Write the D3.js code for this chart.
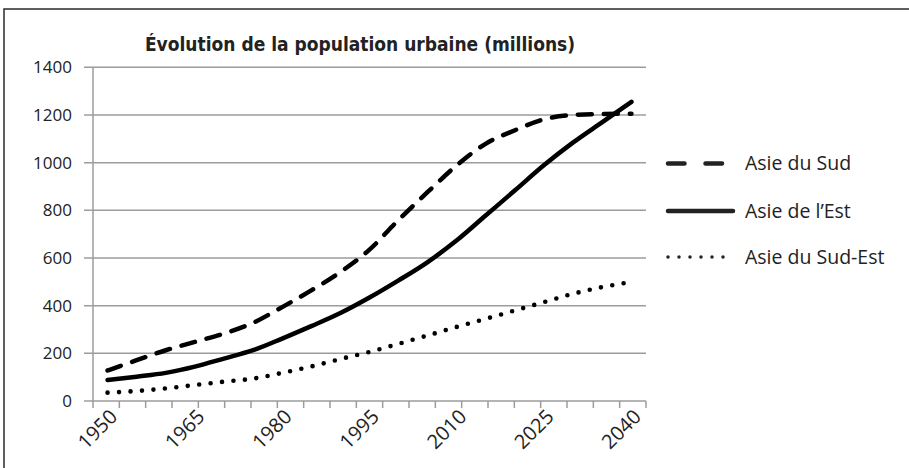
<!DOCTYPE html>
<html>
<head>
<meta charset="utf-8">
<script src="https://cdn.jsdelivr.net/npm/d3@7"></script>
<style>
  body { margin: 0; background: #fff; }
  svg { display: block; }
  text { font-family: "Open Sans", sans-serif; fill: #222; }
</style>
</head>
<body>
<svg id="chart"></svg>
<script>
const width = 909;
const height = 468;
const margin = {top: 67, right: 263, bottom: 67, left: 93};

// données (millions d'habitants urbains)
const years = [1950, 1955, 1960, 1965, 1970, 1975, 1980, 1985, 1990, 1995,
               2000, 2005, 2010, 2015, 2020, 2025, 2030, 2035, 2040];
const asieSud = [128, 171, 213, 248, 283, 328, 394, 464, 541, 635,
                 760, 877, 989, 1080, 1136, 1182, 1200, 1204, 1205];
const asieEst = [88, 102, 118, 144, 178, 213, 262, 314, 369, 434,
                 506, 583, 674, 779, 884, 990, 1085, 1170, 1255];
const asieSudEst = [35, 42, 53, 67, 81, 94, 118, 145, 176, 206,
                    240, 275, 311, 345, 380, 415, 450, 478, 499];
const yTicks = [0, 200, 400, 600, 800, 1000, 1200, 1400];
const xLabels = [1950, 1965, 1980, 1995, 2010, 2025, 2040];
const seriesNames = ["Asie du Sud", "Asie de l\u2019Est", "Asie du Sud-Est"];

const series = [
  {name: seriesNames[0], values: asieSud, dash: "14,12", legendDash: "16.5,21"},
  {name: seriesNames[1], values: asieEst, dash: null, legendDash: null},
  {name: seriesNames[2], values: asieSudEst, dash: "0,11.5", legendDash: "0,11", dot: true}
];

const svg = d3.select("#chart").attr("width", width).attr("height", height);

// cadre
svg.append("path")
  .attr("d", `M4,${height} L4,9 L${width},9`)
  .attr("fill", "none")
  .attr("stroke", "#2b2b2b")
  .attr("stroke-width", 1.5);

const x0 = margin.left, x1 = width - margin.right;

const x = d3.scaleBand().domain(years).range([x0, x1]).padding(0);
const y = d3.scaleLinear().domain([0, 1400]).range([401, 67.3]);
// graduations de l'axe horizontal (21 intervalles réguliers)
const xt = d3.scaleLinear().domain([0, 21]).range([x0, x1]);

// titre
svg.append("text")
  .attr("x", 360)
  .attr("y", 51)
  .attr("text-anchor", "middle")
  .style("font-family", "'DejaVu Sans Condensed', 'DejaVu Sans', sans-serif")
  .style("font-stretch", "condensed")
  .style("font-weight", "bold")
  .style("font-size", "19px")
  .text("\u00C9volution de la population urbaine (millions)");

// grille horizontale
svg.append("g")
  .selectAll("line")
  .data(yTicks)
  .join("line")
  .attr("x1", x0 - 9)
  .attr("x2", x1)
  .attr("y1", d => y(d))
  .attr("y2", d => y(d))
  .attr("stroke", "#9c9c9c")
  .attr("stroke-width", 1.5);

// axe vertical
svg.append("line")
  .attr("x1", x0).attr("x2", x0)
  .attr("y1", y(1400)).attr("y2", y(0))
  .attr("stroke", "#9c9c9c")
  .attr("stroke-width", 1.5);

svg.append("g")
  .selectAll("text")
  .data(yTicks)
  .join("text")
  .attr("x", 72)
  .attr("y", d => y(d))
  .attr("dy", "0.35em")
  .attr("text-anchor", "end")
  .style("font-size", "17px")
  .text(d => d);

// graduations de l'axe X
svg.append("g")
  .selectAll("line")
  .data(d3.range(22))
  .join("line")
  .attr("x1", d => xt(d)).attr("x2", d => xt(d))
  .attr("y1", y(0)).attr("y2", y(0) + 7)
  .attr("stroke", "#9c9c9c")
  .attr("stroke-width", 1.5);

svg.append("g")
  .selectAll("text")
  .data(xLabels)
  .join("text")
  .attr("transform", d => `translate(${x(d) + x.bandwidth() / 2 + 6},${y(0) + 12}) rotate(-45)`)
  .attr("text-anchor", "end")
  .attr("dy", "0.35em")
  .style("font-size", "20px")
  .text(d => d);

// courbes
const line = d3.line()
  .x((d, i) => x(years[i]) + x.bandwidth() / 2)
  .y(d => y(d))
  .curve(d3.curveMonotoneX);

svg.append("g")
  .selectAll("path")
  .data(series)
  .join("path")
  .attr("d", d => line(d.values))
  .attr("fill", "none")
  .attr("stroke", "#000")
  .attr("stroke-width", d => d.dot ? 4.6 : 4.5)
  .attr("stroke-linecap", "round")
  .attr("stroke-dasharray", d => d.dash);

// légende
const legend = svg.append("g")
  .selectAll("g")
  .data(series)
  .join("g")
  .attr("transform", (d, i) => `translate(668,${[163.5, 211, 257][i]})`);

legend.append("line")
  .attr("x1", 0)
  .attr("x2", d => d.dot ? 56 : 65)
  .attr("y1", 0).attr("y2", 0)
  .attr("stroke", "#222")
  .attr("stroke-width", d => d.dot ? 3.5 : 4.5)
  .attr("stroke-linecap", "round")
  .attr("stroke-dasharray", d => d.legendDash);

legend.append("text")
  .attr("x", 77)
  .attr("dy", "0.35em")
  .style("font-size", "19.5px")
  .text(d => d.name);
</script>
</body>
</html>
